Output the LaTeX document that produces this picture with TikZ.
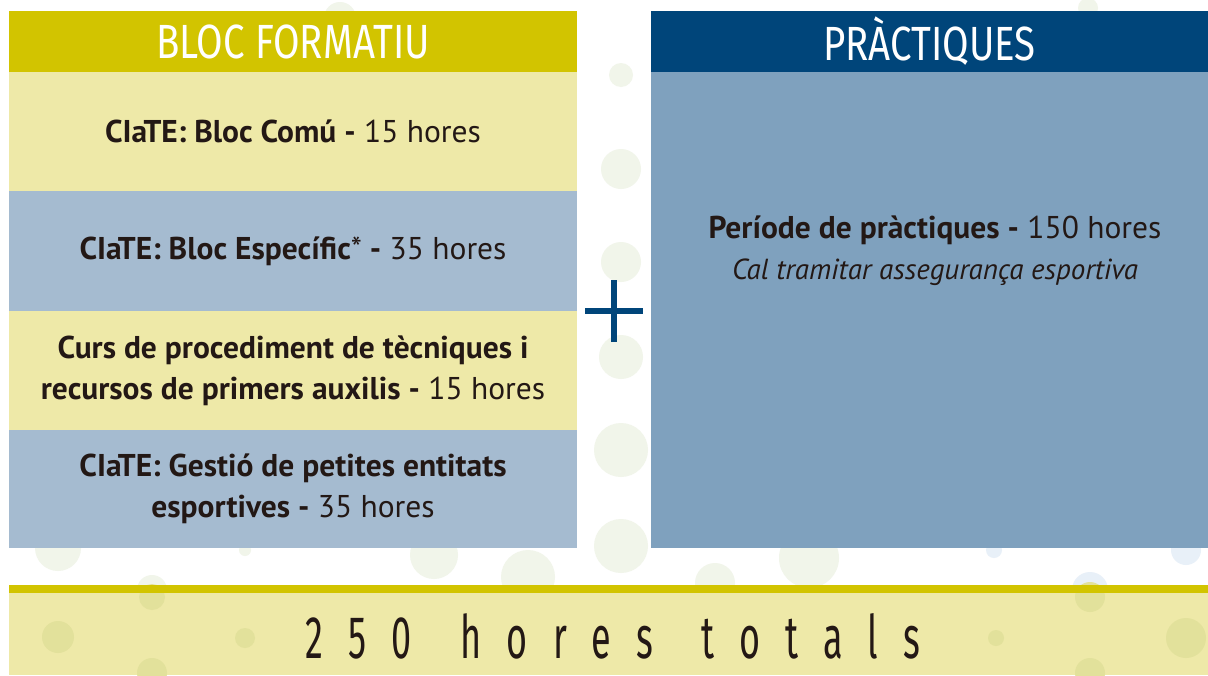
\documentclass[tikz,border=0pt]{standalone}
\usepackage{fontspec}
\setmainfont{PT Sans}
\newfontfamily\titlefont[FakeStretch=0.8]{Fira Sans}
\newfontfamily\totalfont[FakeStretch=0.6,LetterSpace=42]{Fira Sans}
\definecolor{olive}{RGB}{210,196,0}
\definecolor{ltyellow}{RGB}{238,233,168}
\definecolor{ltblue}{RGB}{165,187,208}
\definecolor{dkblue}{RGB}{0,69,122}
\definecolor{midblue}{RGB}{127,161,190}
\definecolor{ink}{RGB}{35,24,21}
\definecolor{dotgreen}{RGB}{241,245,234}
\definecolor{dotblue}{RGB}{232,240,248}
\definecolor{dotband}{RGB}{226,225,155}
\tikzset{
  box/.style={rectangle, inner sep=0pt, outer sep=0pt, draw=none, text=ink, align=center},
  hdr/.style={box, text=white, font=\titlefont\fontsize{48}{48}\selectfont},
  rowtext/.style={font=\fontsize{31.5}{41}\selectfont},
  dot/.style={circle, fill=dotgreen, inner sep=0pt, draw=none},
}
\begin{document}
\begin{tikzpicture}[x=1pt,y=-1pt]
\useasboundingbox (0,0) rectangle (1208,675);
\fill[white] (0,0) rectangle (1208,675);
% background dots
\foreach \cx/\cy/\r/\c in {340/18/16/dotgreen, 621/75/12/dotgreen, 621/169/20/dotgreen, 621/262/20/dotgreen, 621/357/22/dotgreen, 621/450/27/dotgreen, 621/546/27/dotgreen, 58/548/23/dotgreen, 245/550/6/dotgreen, 434/555/24/dotgreen, 528/577/27/dotgreen, 152/590/15/dotgreen, 715/583/20/dotgreen, 809/558/30/dotgreen, 994/550/8/dotblue, 1090/590/18/dotblue, 1186/550/15/dotblue, 1088/8/10/dotgreen}
  \fill[\c] (\cx,\cy) circle (\r);
% left column
\node[hdr, fill=olive, minimum width=568, minimum height=61] (h1) at (293,41.5) {BLOC FORMATIU};
\node[box, rowtext, fill=ltyellow, minimum width=568, minimum height=119] (r1) at (293,131.5) {\textbf{CIaTE: Bloc Comú -} 15 hores};
\node[box, rowtext, fill=ltblue, minimum width=568, minimum height=120] (r2) at (293,251) {\textbf{CIaTE: Bloc Específic}*\textbf{ -} 35 hores};
\node[box, rowtext, fill=ltyellow, minimum width=568, minimum height=119] (r3) at (293,370.5) {\textbf{Curs de procediment de tècniques i}\\\textbf{recursos de primers auxilis -} 15 hores};
\node[box, rowtext, fill=ltblue, minimum width=568, minimum height=118] (r4) at (293,489) {\textbf{CIaTE: Gestió de petites entitats}\\\textbf{esportives -} 35 hores};
% right column
\node[hdr, fill=dkblue, minimum width=557, minimum height=61] (h2) at (929.5,41.5) {PRÀCTIQUES};
\node[box, fill=midblue, minimum width=557, minimum height=476] (p) at (929.5,310) {};
\node[box, rowtext, align=center] (pt) at (935,251) {\textbf{Període de pràctiques -} 150 hores\\[0pt]{\fontsize{29}{34}\selectfont\itshape Cal tramitar assegurança esportiva}};
% plus sign
\coordinate (pc) at (614,311);
\draw[dkblue, line width=6.5pt] ([xshift=-29pt]pc) -- ([xshift=29pt]pc);
\draw[dkblue, line width=6.5pt] ([yshift=-31pt]pc) -- ([yshift=31pt]pc);
% bottom band
\fill[ltyellow] (9,589) rectangle (1208,675);
\foreach \cx/\cy/\r in {58/637/16, 245/638/10, 996/638/8, 1186/638/20, 152/673/15, 1090/673/15, 152/597/13, 1090/597/15}
  \fill[dotband] (\cx,\cy) circle (\r);
\fill[olive] (9,585) rectangle (1208,593);
\node[box, font=\totalfont\fontsize{60}{60}\selectfont] (tot) at (613,636) {250\hspace{14pt} hores\hspace{14pt} totals};
\end{tikzpicture}
\end{document}
